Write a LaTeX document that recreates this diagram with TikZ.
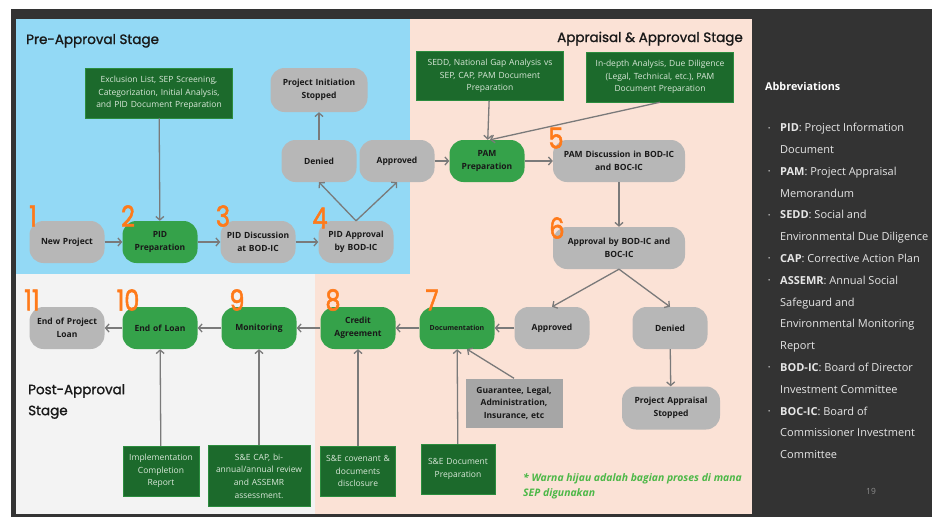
\documentclass[tikz,border=0pt]{standalone}
\usepackage{fontspec}
\setmainfont{Open Sans}
\newfontfamily\titlefont{Poppins}[FakeBold=1.2]
\newfontfamily\numfont{Poppins}[FakeBold=2]
\usetikzlibrary{arrows.meta}

\definecolor{framedark}{HTML}{333333}
\definecolor{prebg}{HTML}{93D9F5}
\definecolor{apprbg}{HTML}{FBE2D6}
\definecolor{postbg}{HTML}{F3F3F3}
\definecolor{stagegrey}{HTML}{B7B7B7}
\definecolor{stagegreen}{HTML}{35A24A}
\definecolor{inputgreen}{HTML}{1C6A2C}
\definecolor{inputtext}{HTML}{D9E8D9}
\definecolor{otherbox}{HTML}{A6A6A6}
\definecolor{numorange}{HTML}{FF7A1A}
\definecolor{flowgrey}{HTML}{7A7A7A}
\definecolor{notegreen}{HTML}{4DB848}
\definecolor{abbrtext}{HTML}{E6E6E6}

\tikzset{
  stage/.style={rounded corners=14pt, minimum width=75pt, minimum height=42pt,
    inner sep=1pt, text width=73pt, align=center, text=black!90,
    font=\bfseries\fontsize{8.5}{12.7}\selectfont},
  greystage/.style={stage, fill=stagegrey},
  greenstage/.style={stage, fill=stagegreen},
  inputbox/.style={fill=inputgreen, draw=stagegreen!60!inputgreen, line width=0.5pt,
    text=inputtext, inner sep=1pt, align=center, font=\fontsize{8.5}{12.7}\selectfont},
  stepno/.style={text=numorange, inner sep=0pt, yscale=1.2, font=\numfont\fontsize{24}{24}\selectfont},
  stagetitle/.style={inner sep=0pt, text=black!90, align=left,
    font=\titlefont\fontsize{13.5}{21}\selectfont},
  flow/.style={draw=flowgrey, line width=1.3pt, -{Straight Barb[length=3.5pt,width=8pt]}},
}

\newcommand{\abbrbullet}{\makebox[12pt][l]{\raisebox{1.5pt}{\fontsize{6}{6}\selectfont\textbullet}}}

\begin{document}
\begin{tikzpicture}[x=1pt, y=-1pt]
  \useasboundingbox (0,0) rectangle (932,517);
  \fill[white] (0,0) rectangle (932,517);
  \fill[framedark] (11,9) rectangle (932,517);
  \fill[prebg] (16,19) rectangle (410,274);
  \fill[apprbg] (410,19) rectangle (752,274);
  \fill[apprbg] (315,274) rectangle (752,514);
  \fill[postbg] (16,274) rectangle (315,514);

  \node[stagetitle, anchor=base west] (pretitle) at (26,44) {Pre-Approval Stage};
  \node[stagetitle, anchor=base east] (apprtitle) at (743,42) {Appraisal \& Approval Stage};
  \node[stagetitle, anchor=north west] (posttitle) at (28,384) {Post-Approval\\Stage};

  \node[greystage] (newproj) at (67,242) {New Project};
  \node[greenstage] (pidprep) at (160,242) {PID\\Preparation};
  \node[greystage] (piddisc) at (258,242) {PID Discussion\\at BOD-IC};
  \node[greystage] (pidappr) at (356,242) {PID Approval\\by BOD-IC};
  \node[greystage] (denied1) at (319,161) {Denied};
  \node[greystage] (approved1) at (397,161) {Approved};
  \node[greystage, minimum width=97pt, minimum height=44pt, text width=95pt] (initstop) at (319,90) {Project Initiation\\Stopped};
  \node[greenstage] (pamprep) at (487,161) {PAM\\Preparation};
  \node[greystage, minimum width=132pt, text width=130pt] (pamdisc) at (619,161) {PAM Discussion in BOD-IC\\and BOC-IC};
  \node[greystage, minimum width=132pt, text width=130pt] (bodappr) at (619,248) {Approval by BOD-IC and\\BOC-IC};
  \node[greystage] (approved2) at (552,328) {Approved};
  \node[greystage] (denied2) at (670,328) {Denied};
  \node[greystage, minimum width=98pt, minimum height=43pt, text width=96pt] (apprstop) at (671,408) {Project Appraisal\\Stopped};
  \node[greenstage, font=\bfseries\fontsize{7}{9}\selectfont] (docu) at (457,328) {Documentation};
  \node[greenstage] (credit) at (358,328) {Credit\\Agreement};
  \node[greenstage] (monitor) at (259,328) {Monitoring};
  \node[greenstage] (endloan) at (160,328) {End of Loan};
  \node[greystage] (endproj) at (67,328) {End of Project\\Loan};

  \node[inputbox, text width=145pt, minimum height=50pt] (exclusion) at (159,93) {Exclusion List, SEP Screening,\\Categorization, Initial Analysis,\\and PID Document Preparation};
  \node[inputbox, text width=145pt, minimum height=49pt] (sedd) at (490,76) {SEDD, National Gap Analysis vs\\SEP, CAP, PAM Document\\Preparation};
  \node[inputbox, text width=145pt, minimum height=50pt] (indepth) at (660,77) {In-depth Analysis, Due Diligence\\(Legal, Technical, etc.), PAM\\Document Preparation};
  \node[fill=otherbox, inner sep=1pt, text width=95pt, minimum height=49pt, align=center, text=black!90, font=\bfseries\fontsize{8.5}{12.5}\selectfont] (guarantee) at (514,403) {Guarantee, Legal,\\Administration,\\Insurance, etc};
  \node[inputbox, text width=72pt, minimum height=50pt] (sedocprep) at (458,469) {S\&E Document\\Preparation};
  \node[inputbox, text width=73pt, minimum height=50pt] (covenant) at (358,471) {S\&E covenant \&\\documents\\disclosure};
  \node[inputbox, text width=100pt, minimum height=61pt] (secap) at (259,476) {S\&E CAP, bi-\\annual/annual review\\and ASSEMR\\assessment.};
  \node[inputbox, text width=74pt, minimum height=50pt] (implrep) at (161,471) {Implementation\\Completion\\Report};

  \node[stepno] (n1) at (33,216) {1};
  \node[stepno] (n2) at (128,216) {2};
  \node[stepno] (n3) at (223,216) {3};
  \node[stepno] (n4) at (320,218) {4};
  \node[stepno] (n5) at (556,138) {5};
  \node[stepno] (n6) at (557,228) {6};
  \node[stepno] (n7) at (432,300) {7};
  \node[stepno] (n8) at (333,300) {8};
  \node[stepno] (n9) at (237,300) {9};
  \node[stepno] (n10) at (128,300) {10};
  \node[stepno] (n11) at (32,300) {11};

  \node[anchor=north west, inner sep=0pt, align=left, text=notegreen, font=\bfseries\itshape\fontsize{10.4}{15.5}\selectfont] (note) at (523,473) {* Warna hijau adalah bagian proses di mana\\SEP digunakan};

  \node[anchor=base west, inner sep=0pt, text=white, font=\bfseries\fontsize{10.8}{12}\selectfont] (abbrtitle) at (765,90) {Abbreviations};
  \node[anchor=north west, inner sep=0pt, align=left, text=abbrtext, font=\fontsize{11}{21.8}\selectfont] (abbrlist) at (768,123) {%
    \abbrbullet\textbf{PID}: Project Information\\
    \hspace*{12pt}Document\\
    \abbrbullet\textbf{PAM}: Project Appraisal\\
    \hspace*{12pt}Memorandum\\
    \abbrbullet\textbf{SEDD}: Social and\\
    \hspace*{12pt}Environmental Due Diligence\\
    \abbrbullet\textbf{CAP}: Corrective Action Plan\\
    \abbrbullet\textbf{ASSEMR}: Annual Social\\
    \hspace*{12pt}Safeguard and\\
    \hspace*{12pt}Environmental Monitoring\\
    \hspace*{12pt}Report\\
    \abbrbullet\textbf{BOD-IC}: Board of Director\\
    \hspace*{12pt}Investment Committee\\
    \abbrbullet\textbf{BOC-IC}: Board of\\
    \hspace*{12pt}Commissioner Investment\\
    \hspace*{12pt}Committee};
  \node[text=black!45, inner sep=0pt, font=\fontsize{8.5}{10}\selectfont] (pageno) at (871,491) {19};

  \begin{scope}[flow]
    \draw (newproj) to (pidprep);
    \draw (exclusion) to (pidprep);
    \draw (pidprep) to (piddisc);
    \draw (piddisc) to (pidappr);
    \draw (pidappr.north) to (denied1.south);
    \draw (pidappr.north) to (approved1.south);
    \draw (denied1) to (initstop);
    \draw (approved1) to (pamprep);
    \draw (sedd) to (pamprep);
    \draw (indepth.south) to ([xshift=3pt]pamprep.north);
    \draw (pamprep) to (pamdisc);
    \draw (pamdisc) to (bodappr);
    \draw (bodappr.south) to (approved2.north);
    \draw (bodappr.south) to (denied2.north);
    \draw (denied2) to (apprstop);
    \draw (approved2) to (docu);
    \draw (guarantee.north) to ([xshift=10pt]docu.south);
    \draw (sedocprep) to (docu);
    \draw (docu) to (credit);
    \draw (covenant) to (credit);
    \draw (credit) to (monitor);
    \draw (secap) to (monitor);
    \draw (monitor) to (endloan);
    \draw (implrep) to (endloan);
    \draw (endloan) to (endproj);
  \end{scope}
\end{tikzpicture}
\end{document}
